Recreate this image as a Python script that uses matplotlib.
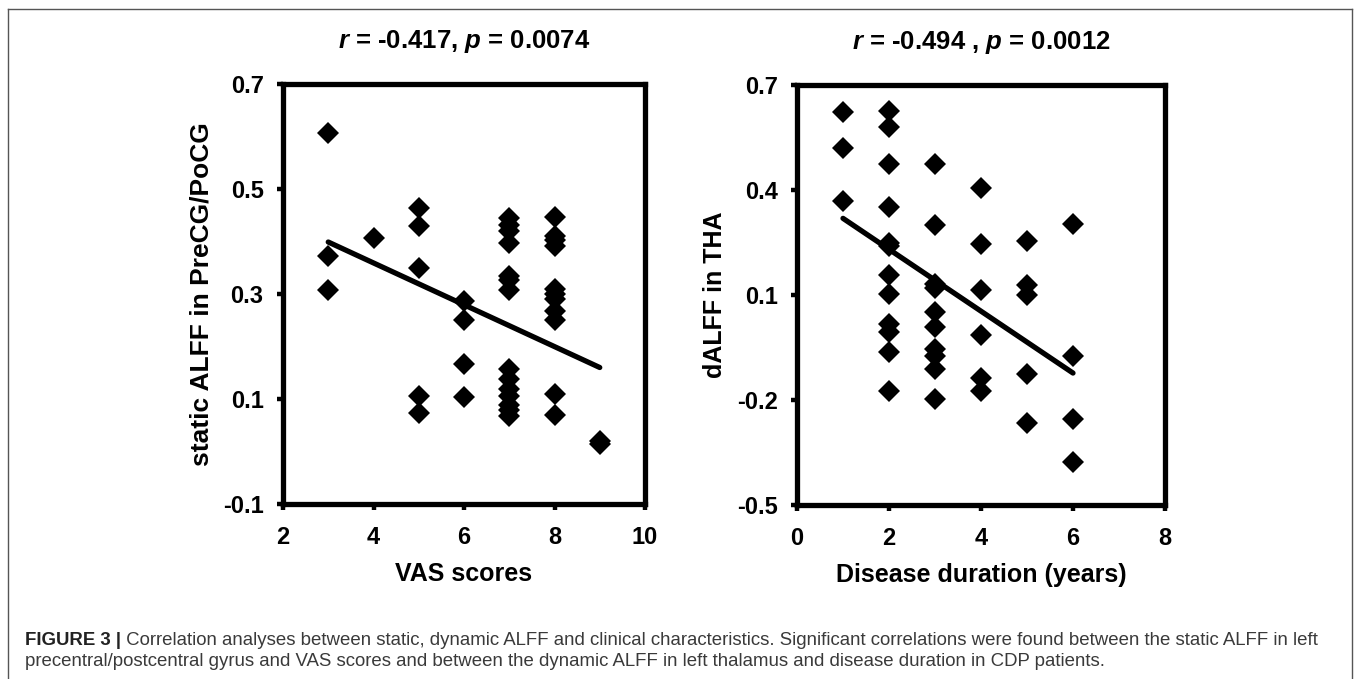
import numpy as np
import matplotlib
matplotlib.use('Agg')
import matplotlib.pyplot as plt
from matplotlib.lines import Line2D

plt.rcParams['font.family'] = ['Liberation Sans', 'DejaVu Sans']
plt.rcParams['mathtext.fontset'] = 'custom'
plt.rcParams['mathtext.it'] = 'Liberation Sans:italic:bold'
plt.rcParams['mathtext.rm'] = 'Liberation Sans:bold'

# left panel: VAS scores vs static ALFF
vas = [3, 3, 3,
       4,
       5, 5, 5, 5, 5,
       6, 6, 6, 6,
       7, 7, 7, 7, 7, 7, 7, 7, 7, 7, 7, 7, 7, 7,
       8, 8, 8, 8, 8, 8, 8, 8, 8, 8, 8,
       9, 9]
salff = [0.607, 0.372, 0.307,
         0.407,
         0.464, 0.430, 0.350, 0.106, 0.074,
         0.287, 0.250, 0.166, 0.104,
         0.445, 0.432, 0.420, 0.398, 0.335, 0.326, 0.307, 0.157, 0.138, 0.120, 0.106, 0.088, 0.080, 0.068,
         0.447, 0.410, 0.402, 0.392, 0.309, 0.300, 0.290, 0.268, 0.250, 0.109, 0.069,
         0.020, 0.014]
# fitted line as drawn in the figure (end points)
fit_vas = [3, 9]
fit_salff = [0.399, 0.160]

# right panel: disease duration vs dynamic ALFF
dur = [1, 1, 1,
       2, 2, 2, 2, 2, 2, 2, 2, 2, 2, 2, 2,
       3, 3, 3, 3, 3, 3, 3, 3, 3, 3,
       4, 4, 4, 4, 4, 4,
       5, 5, 5, 5, 5,
       6, 6, 6, 6]
dalff = [0.622, 0.520, 0.370,
         0.625, 0.579, 0.475, 0.352, 0.250, 0.240, 0.156, 0.103, 0.017, -0.007, -0.064, -0.174,
         0.475, 0.300, 0.132, 0.120, 0.051, 0.008, -0.053, -0.074, -0.112, -0.196,
         0.405, 0.245, 0.113, -0.013, -0.136, -0.174,
         0.255, 0.129, 0.100, -0.126, -0.265,
         0.302, -0.074, -0.253, -0.378]
fit_dur = [1, 6]
fit_dalff = [0.319, -0.123]

titles = [r'$r$ = -0.417, $p$ = 0.0074', r'$r$ = -0.494 , $p$ = 0.0012']
xlabels = ['VAS scores', 'Disease duration (years)']
ylabels = ['static ALFF in PreCG/PoCG', 'dALFF in THA']
xticks = [[2, 4, 6, 8, 10], [0, 2, 4, 6, 8]]
yticks = [[-0.1, 0.1, 0.3, 0.5, 0.7], [-0.5, -0.2, 0.1, 0.4, 0.7]]

W, H = 1357, 679
fig = plt.figure(figsize=(W / 100, H / 100), dpi=100)

boxes = [(283, 84, 645, 504), (797, 85, 1165, 505)]
panels = [(vas, salff, fit_vas, fit_salff), (dur, dalff, fit_dur, fit_dalff)]

for i in range(2):
    x0, y0, x1, y1 = boxes[i]
    ax = fig.add_axes([x0 / W, 1 - y1 / H, (x1 - x0) / W, (y1 - y0) / H])
    px, py, fx, fy = panels[i]
    ax.plot(px, py, 'D', color='black', ms=11.5, mew=0, zorder=3)
    ax.plot(fx, fy, color='black', lw=3.8, solid_capstyle='round', zorder=2)
    ax.set_xlim(xticks[i][0], xticks[i][-1])
    ax.set_ylim(yticks[i][0], yticks[i][-1])
    ax.set_xticks(xticks[i])
    ax.set_yticks(yticks[i])
    ax.set_xticklabels([str(t) for t in xticks[i]])
    ax.set_yticklabels(['%.1f' % t for t in yticks[i]])
    for s in ax.spines.values():
        s.set_linewidth(3.8)
    ax.tick_params(direction='out', length=4, width=3.2, labelsize=17)
    ax.tick_params(axis='y', pad=10)
    ax.tick_params(axis='x', pad=12)
    for lab in ax.get_xticklabels() + ax.get_yticklabels():
        lab.set_fontweight('bold')
    ax.set_title(titles[i], fontsize=18.5, fontweight='bold', pad=26)
    ax.set_xlabel(xlabels[i], fontsize=18, fontweight='bold', labelpad=9)
    ax.set_ylabel(ylabels[i], fontsize=19 if i == 0 else 18, fontweight='bold', labelpad=7)

# outer frame
frame_col = '#555555'
fig.add_artist(Line2D([8 / W, 8 / W], [0, 1 - 9 / H], color=frame_col, lw=1))
fig.add_artist(Line2D([8 / W, 1352 / W], [1 - 9 / H, 1 - 9 / H], color=frame_col, lw=1))
fig.add_artist(Line2D([1352 / W, 1352 / W], [0, 1 - 9 / H], color=frame_col, lw=1))

# caption
cap_bold = 'FIGURE 3 |'
cap1 = (' Correlation analyses between static, dynamic ALFF and clinical characteristics. '
        'Significant correlations were found between the static ALFF in left')
cap2 = ('precentral/postcentral gyrus and VAS scores and between the dynamic ALFF in left '
        'thalamus and disease duration in CDP patients.')
t0 = fig.text(25 / W, 1 - 645 / H, cap_bold, fontsize=13.4, fontweight='bold',
              color='#222222', va='baseline')
fig.canvas.draw()
bb = t0.get_window_extent()
fig.text(bb.x1 / W, 1 - 645 / H, cap1, fontsize=13.4, color='#3a3a3a', va='baseline')
fig.text(25 / W, 1 - 666 / H, cap2, fontsize=13.4, color='#3a3a3a', va='baseline')

fig.savefig('out.png', dpi=100)
